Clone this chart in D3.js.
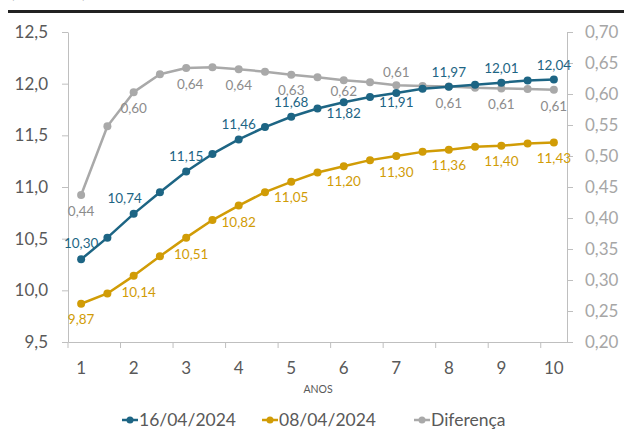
<!DOCTYPE html>
<html>
<head>
<meta charset="utf-8">
<script src="https://cdn.jsdelivr.net/npm/d3@7"></script>
<style>
  html, body { margin: 0; padding: 0; background: #fff; }
  svg { display: block; font-family: Lato, "Open Sans", "Liberation Sans", sans-serif; }
</style>
</head>
<body>
<svg id="chart" width="624" height="429"></svg>
<script>
// ---- data ----
const years = [1, 1.5, 2, 2.5, 3, 3.5, 4, 4.5, 5, 5.5, 6, 6.5, 7, 7.5, 8, 8.5, 9, 9.5, 10];
const serie160424 = [10.30, 10.51, 10.74, 10.95, 11.15, 11.32, 11.46, 11.58, 11.68, 11.76, 11.82, 11.87, 11.91, 11.95, 11.97, 11.99, 12.01, 12.03, 12.04];
const serie080424 = [9.87, 9.97, 10.14, 10.33, 10.51, 10.68, 10.82, 10.95, 11.05, 11.14, 11.20, 11.26, 11.30, 11.34, 11.36, 11.39, 11.40, 11.42, 11.43];
const diferenca = [0.437, 0.548, 0.603, 0.632, 0.642, 0.643, 0.640, 0.636, 0.631, 0.627, 0.622, 0.619, 0.614, 0.613, 0.612, 0.610, 0.609, 0.608, 0.607];
const leftTicks = [9.5, 10.0, 10.5, 11.0, 11.5, 12.0, 12.5];
const rightTicks = [0.20, 0.25, 0.30, 0.35, 0.40, 0.45, 0.50, 0.55, 0.60, 0.65, 0.70];
const xTickLabels = [1, 2, 3, 4, 5, 6, 7, 8, 9, 10];
const seriesNames = ["16/04/2024", "08/04/2024", "Diferença"];

// ---- layout / style ----
const C_BLUE = "#1d6584", C_GOLD = "#d19c06", C_GREY = "#a9a9a9";
const AXIS = "#bfbfbf", TXT = "#595959";
const svg = d3.select("#chart");
const fmt2 = v => d3.format(".2f")(v).replace(".", ",");
const fmt1 = v => d3.format(".1f")(v).replace(".", ",");

const x = d3.scaleBand().domain(years).range([68, 567]).padding(0);
const cx = d => x(d) + x.bandwidth() / 2;
const yL = d3.scaleLinear().domain([9.5, 12.5]).range([342, 32]);
const yR = d3.scaleLinear().domain([0.2, 0.7]).range([342, 32]);

// top rule and clipped caption
svg.append("text").attr("x", 10).attr("y", -2).attr("font-size", 17).attr("fill", TXT).text("(% ao ano)");
svg.append("rect").attr("x", 8).attr("y", 10).attr("width", 616).attr("height", 3).attr("fill", "#222");

// axes
const gx = svg.append("g").attr("transform", "translate(0,342)")
  .call(d3.axisBottom(x).tickSize(0).tickFormat(""));
gx.select(".domain").attr("stroke", AXIS);
const tickYears = years.filter((d, i) => i % 2 === 0);
svg.append("g").selectAll("line").data(tickYears).join("line")
  .attr("x1", d => x(d)).attr("x2", d => x(d)).attr("y1", 342).attr("y2", 348)
  .attr("stroke", AXIS);
svg.append("g").selectAll("text").data(xTickLabels).join("text")
  .attr("x", d => cx(d)).attr("y", 374).attr("text-anchor", "middle")
  .attr("font-size", 17).attr("fill", TXT).text(d => d);
svg.append("text").attr("x", 318).attr("y", 393).attr("text-anchor", "middle")
  .attr("font-size", 10.5).attr("fill", TXT).text("ANOS");

const gl = svg.append("g").attr("transform", "translate(68,0)")
  .call(d3.axisLeft(yL).tickValues(leftTicks).tickSize(6).tickSizeOuter(0).tickPadding(14).tickFormat(fmt1));
gl.select(".domain").attr("stroke", AXIS);
gl.selectAll(".tick line").attr("stroke", AXIS);
gl.selectAll(".tick text").attr("fill", TXT).attr("font-size", 17).attr("font-family", "Lato, sans-serif");

const gr = svg.append("g").attr("transform", "translate(567,0)")
  .call(d3.axisRight(yR).tickValues(rightTicks).tickSize(6).tickSizeOuter(0).tickPadding(12).tickFormat(fmt2));
gr.select(".domain").attr("stroke", AXIS);
gr.selectAll(".tick line").attr("stroke", AXIS);
gr.selectAll(".tick text").attr("fill", "#a6a6a6").attr("font-size", 17).attr("font-family", "Lato, sans-serif");

// series
const series = [
  { name: seriesNames[2], vals: diferenca, y: yR, color: C_GREY },
  { name: seriesNames[1], vals: serie080424, y: yL, color: C_GOLD },
  { name: seriesNames[0], vals: serie160424, y: yL, color: C_BLUE },
];
series.forEach(s => {
  const line = d3.line().x((d, i) => cx(years[i])).y(d => s.y(d));
  svg.append("path").attr("d", line(s.vals)).attr("fill", "none")
    .attr("stroke", s.color).attr("stroke-width", 2.5).attr("stroke-linejoin", "round");
  svg.append("g").selectAll("circle").data(s.vals).join("circle")
    .attr("cx", (d, i) => cx(years[i])).attr("cy", d => s.y(d)).attr("r", 4).attr("fill", s.color);
});

// data labels (every other point); placement: offsets from point
const blueOff = { 0: [0, -11], 2: [-9, -11], 4: [0, -11], 6: [0, -10], 8: [0, -10], 10: [0, 16], 12: [0, 14], 14: [0, -10], 16: [0, -10], 18: [0, -10] };
const goldOff = { 0: [0, 20], 2: [5, 21], 4: [5, 21], 6: [0, 21], 8: [0, 20], 10: [0, 20], 12: [0, 21], 14: [0, 20], 16: [0, 20], 18: [0, 20] };
const greyOff = { 0: [0, 21], 2: [0, 21], 4: [4, 21], 6: [0, 21], 8: [0, 20], 10: [0, 16], 12: [0, -8], 14: [0, 21], 16: [0, 21], 18: [0, 21] };
function labels(vals, yS, color, off) {
  svg.append("g").selectAll("text").data(vals.map((v, i) => ({ v, i })).filter(d => d.i % 2 === 0)).join("text")
    .attr("x", d => cx(years[d.i]) + off[d.i][0])
    .attr("y", d => yS(d.v) + off[d.i][1])
    .attr("text-anchor", "middle").attr("font-size", 13.5).attr("fill", color)
    .text(d => fmt2(d.v));
}
labels(diferenca, yR, "#8c8c8c", greyOff);
labels(serie080424, yL, C_GOLD, goldOff);
labels(serie160424, yL, C_BLUE, blueOff);

// legend
const legendItems = [
  { name: seriesNames[0], color: C_BLUE, x: 122 },
  { name: seriesNames[1], color: C_GOLD, x: 262 },
  { name: seriesNames[2], color: C_GREY, x: 414 },
];
const lg = svg.append("g").selectAll("g").data(legendItems).join("g")
  .attr("transform", d => `translate(${d.x},420)`);
lg.append("line").attr("x1", 0).attr("x2", 16).attr("stroke", d => d.color).attr("stroke-width", 2.5);
lg.append("circle").attr("cx", 8).attr("r", 3.5).attr("fill", d => d.color);
lg.append("text").attr("x", 17).attr("y", 6).attr("font-size", 17.5).attr("fill", TXT).text(d => d.name);
</script>
</body>
</html>
